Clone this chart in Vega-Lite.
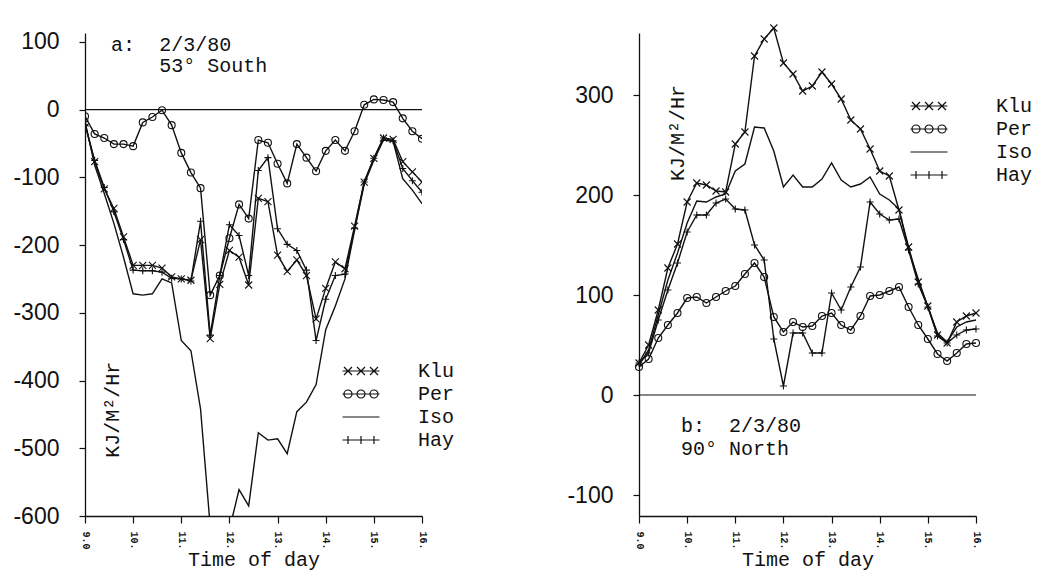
{
  "$schema": "https://vega.github.io/schema/vega-lite/v6.json",
  "background": "white",
  "padding": {"left": 12, "top": 22, "right": 5, "bottom": 4},
  "config": {
    "view": {"stroke": null},
    "font": "Liberation Mono",
    "axis": {"grid": false, "domainColor": "#111", "tickColor": "#111", "labelColor": "#111", "titleColor": "#111", "domainWidth": 1.3, "tickWidth": 1.2},
    "legend": {"padding": 0}
  },
  "datasets": {
    "a": [
      {"t": 9.0, "Klu": -20, "Per": -10, "Iso": -18, "Hay": -22},
      {"t": 9.2, "Klu": -77, "Per": -36, "Iso": -82, "Hay": -75},
      {"t": 9.4, "Klu": -117, "Per": -42, "Iso": -124, "Hay": -115},
      {"t": 9.6, "Klu": -146, "Per": -51, "Iso": -168, "Hay": -151},
      {"t": 9.8, "Klu": -188, "Per": -51, "Iso": -218, "Hay": -192},
      {"t": 10.0, "Klu": -230, "Per": -54, "Iso": -272, "Hay": -237},
      {"t": 10.2, "Klu": -230, "Per": -19, "Iso": -274, "Hay": -238},
      {"t": 10.4, "Klu": -230, "Per": -11, "Iso": -272, "Hay": -238},
      {"t": 10.6, "Klu": -234, "Per": -1, "Iso": -250, "Hay": -240},
      {"t": 10.8, "Klu": -247, "Per": -23, "Iso": -256, "Hay": -249},
      {"t": 11.0, "Klu": -250, "Per": -64, "Iso": -341, "Hay": -250},
      {"t": 11.2, "Klu": -252, "Per": -93, "Iso": -356, "Hay": -253},
      {"t": 11.4, "Klu": -192, "Per": -116, "Iso": -442, "Hay": -165},
      {"t": 11.6, "Klu": -338, "Per": -274, "Iso": -615, "Hay": -333},
      {"t": 11.8, "Klu": -258, "Per": -245, "Iso": -680, "Hay": -245},
      {"t": 12.0, "Klu": -208, "Per": -190, "Iso": -620, "Hay": -170},
      {"t": 12.2, "Klu": -218, "Per": -140, "Iso": -561, "Hay": -186},
      {"t": 12.4, "Klu": -259, "Per": -161, "Iso": -585, "Hay": -245},
      {"t": 12.6, "Klu": -131, "Per": -45, "Iso": -477, "Hay": -90},
      {"t": 12.8, "Klu": -136, "Per": -49, "Iso": -488, "Hay": -71},
      {"t": 13.0, "Klu": -215, "Per": -80, "Iso": -486, "Hay": -176},
      {"t": 13.2, "Klu": -239, "Per": -109, "Iso": -508, "Hay": -199},
      {"t": 13.4, "Klu": -222, "Per": -51, "Iso": -446, "Hay": -208},
      {"t": 13.6, "Klu": -245, "Per": -71, "Iso": -432, "Hay": -237},
      {"t": 13.8, "Klu": -309, "Per": -91, "Iso": -406, "Hay": -341},
      {"t": 14.0, "Klu": -264, "Per": -61, "Iso": -325, "Hay": -280},
      {"t": 14.2, "Klu": -225, "Per": -45, "Iso": -290, "Hay": -245},
      {"t": 14.4, "Klu": -235, "Per": -61, "Iso": -250, "Hay": -243},
      {"t": 14.6, "Klu": -172, "Per": -32, "Iso": -178, "Hay": -175},
      {"t": 14.8, "Klu": -107, "Per": 7, "Iso": -110, "Hay": -107},
      {"t": 15.0, "Klu": -72, "Per": 15, "Iso": -75, "Hay": -72},
      {"t": 15.2, "Klu": -42, "Per": 14, "Iso": -45, "Hay": -42},
      {"t": 15.4, "Klu": -44, "Per": 11, "Iso": -47, "Hay": -46},
      {"t": 15.6, "Klu": -77, "Per": -13, "Iso": -102, "Hay": -87},
      {"t": 15.8, "Klu": -92, "Per": -32, "Iso": -119, "Hay": -105},
      {"t": 16.0, "Klu": -107, "Per": -43, "Iso": -139, "Hay": -122}
    ],
    "b": [
      {"t": 9.0, "Klu": 32, "Per": 28, "Iso": 30, "Hay": 32},
      {"t": 9.2, "Klu": 50, "Per": 36, "Iso": 45, "Hay": 42},
      {"t": 9.4, "Klu": 85, "Per": 57, "Iso": 80, "Hay": 75},
      {"t": 9.6, "Klu": 127, "Per": 70, "Iso": 115, "Hay": 105},
      {"t": 9.8, "Klu": 151, "Per": 82, "Iso": 142, "Hay": 132},
      {"t": 10.0, "Klu": 193, "Per": 97, "Iso": 172, "Hay": 163},
      {"t": 10.2, "Klu": 212, "Per": 98, "Iso": 194, "Hay": 180},
      {"t": 10.4, "Klu": 210, "Per": 92, "Iso": 193, "Hay": 180},
      {"t": 10.6, "Klu": 204, "Per": 98, "Iso": 198, "Hay": 192},
      {"t": 10.8, "Klu": 203, "Per": 104, "Iso": 201, "Hay": 196},
      {"t": 11.0, "Klu": 251, "Per": 109, "Iso": 224, "Hay": 186},
      {"t": 11.2, "Klu": 263, "Per": 121, "Iso": 231, "Hay": 185},
      {"t": 11.4, "Klu": 339, "Per": 132, "Iso": 268, "Hay": 150},
      {"t": 11.6, "Klu": 356, "Per": 118, "Iso": 267, "Hay": 135},
      {"t": 11.8, "Klu": 367, "Per": 78, "Iso": 244, "Hay": 56},
      {"t": 12.0, "Klu": 332, "Per": 63, "Iso": 208, "Hay": 9},
      {"t": 12.2, "Klu": 321, "Per": 73, "Iso": 220, "Hay": 62},
      {"t": 12.4, "Klu": 304, "Per": 68, "Iso": 208, "Hay": 62},
      {"t": 12.6, "Klu": 309, "Per": 69, "Iso": 208, "Hay": 42},
      {"t": 12.8, "Klu": 323, "Per": 79, "Iso": 216, "Hay": 42},
      {"t": 13.0, "Klu": 311, "Per": 82, "Iso": 232, "Hay": 102},
      {"t": 13.2, "Klu": 296, "Per": 70, "Iso": 215, "Hay": 85},
      {"t": 13.4, "Klu": 275, "Per": 65, "Iso": 208, "Hay": 108},
      {"t": 13.6, "Klu": 266, "Per": 79, "Iso": 211, "Hay": 128},
      {"t": 13.8, "Klu": 246, "Per": 99, "Iso": 218, "Hay": 193},
      {"t": 14.0, "Klu": 224, "Per": 100, "Iso": 201, "Hay": 181},
      {"t": 14.2, "Klu": 219, "Per": 104, "Iso": 195, "Hay": 175},
      {"t": 14.4, "Klu": 185, "Per": 108, "Iso": 186, "Hay": 176},
      {"t": 14.6, "Klu": 148, "Per": 88, "Iso": 145, "Hay": 145},
      {"t": 14.8, "Klu": 113, "Per": 70, "Iso": 116, "Hay": 111},
      {"t": 15.0, "Klu": 89, "Per": 56, "Iso": 88, "Hay": 88},
      {"t": 15.2, "Klu": 60, "Per": 41, "Iso": 62, "Hay": 59},
      {"t": 15.4, "Klu": 52, "Per": 34, "Iso": 53, "Hay": 52},
      {"t": 15.6, "Klu": 73, "Per": 42, "Iso": 68, "Hay": 60},
      {"t": 15.8, "Klu": 79, "Per": 51, "Iso": 73, "Hay": 65},
      {"t": 16.0, "Klu": 82, "Per": 52, "Iso": 75, "Hay": 66}
    ]
  },
  "spacing": 217,
  "bounds": "flush",
  "resolve": {"scale": {"x": "independent", "y": "independent", "shape": "independent"}, "legend": {"shape": "independent"}},
  "hconcat": [
    {
      "width": 337,
      "height": 483,
      "layer": [
        {
          "data": {"values": [{}]},
          "mark": {"type": "rule", "color": "#111", "strokeWidth": 1.2},
          "encoding": {"y": {"datum": 0, "type": "quantitative"}}
        },
        {
          "data": {"name": "a"},
          "transform": [{"fold": ["Klu", "Per", "Iso", "Hay"], "as": ["s", "v"]}],
          "mark": {"type": "line", "color": "#111", "strokeWidth": 1.4, "clip": true},
          "encoding": {
            "x": {"field": "t", "type": "quantitative", "scale": {"domain": [9, 16], "nice": false, "zero": false},
              "axis": {"values": [9, 10, 11, 12, 13, 14, 15, 16], "labelExpr": "datum.value == 9 ? '9.0' : datum.value + '.'", "labelAngle": 90, "labelFont": "Liberation Mono", "labelFontSize": 10, "labelFontWeight": "bold", "labelPadding": 8, "tickSize": 7, "title": "Time of day", "titleFont": "Liberation Mono", "titleFontSize": 20, "titleFontWeight": "normal", "titlePadding": 0}},
            "y": {"field": "v", "type": "quantitative", "scale": {"domain": [-600, 113], "nice": false, "zero": false},
              "axis": {"values": [100, 0, -100, -200, -300, -400, -500, -600], "labelExpr": "datum.value < 0 ? '-' + abs(datum.value) : '' + datum.value", "labelFont": "Liberation Sans", "labelFontSize": 23, "tickSize": 6, "labelPadding": 20, "title": null}},
            "detail": {"field": "s"}
          }
        },
        {
          "data": {"name": "a"},
          "transform": [{"fold": ["Klu"], "as": ["s", "v"]}],
          "mark": {"type": "point", "filled": false, "color": "#111", "strokeWidth": 1.1, "size": 49, "opacity": 1, "clip": true, "shape": "M-1,-1L1,1M-1,1L1,-1"},
          "encoding": {"x": {"field": "t", "type": "quantitative"}, "y": {"field": "v", "type": "quantitative"}}
        },
        {
          "data": {"name": "a"},
          "transform": [{"fold": ["Per"], "as": ["s", "v"]}],
          "mark": {"type": "point", "filled": false, "color": "#111", "strokeWidth": 1.1, "size": 49, "opacity": 1, "clip": true, "shape": "circle"},
          "encoding": {"x": {"field": "t", "type": "quantitative"}, "y": {"field": "v", "type": "quantitative"}}
        },
        {
          "data": {"name": "a"},
          "transform": [{"fold": ["Hay"], "as": ["s", "v"]}],
          "mark": {"type": "point", "filled": false, "color": "#111", "strokeWidth": 1.1, "size": 49, "opacity": 1, "clip": true, "shape": "M-1,0L1,0M0,-1L0,1"},
          "encoding": {"x": {"field": "t", "type": "quantitative"}, "y": {"field": "v", "type": "quantitative"}}
        },
        {
          "data": {"name": "a"},
          "transform": [{"fold": ["Klu", "Per", "Iso", "Hay"], "as": ["s", "v"]}, {"filter": "false"}],
          "mark": {"type": "point", "filled": false, "color": "#111", "strokeWidth": 1.2, "size": 100, "opacity": 1},
          "encoding": {
            "x": {"field": "t", "type": "quantitative"},
            "y": {"field": "v", "type": "quantitative"},
            "shape": {"field": "s", "type": "nominal",
              "scale": {"domain": ["Klu", "Per", "Iso", "Hay"], "range": [
                "M-3.7,0L3.7,0M-3.4,-0.8L-1.8,0.8M-3.4,0.8L-1.8,-0.8M-0.8,-0.8L0.8,0.8M-0.8,0.8L0.8,-0.8M1.8,-0.8L3.4,0.8M1.8,0.8L3.4,-0.8",
                "M-3.7,0L3.7,0M-3.4,0A0.8,0.8 0 1,0 -1.8,0A0.8,0.8 0 1,0 -3.4,0M-0.8,0A0.8,0.8 0 1,0 0.8,0A0.8,0.8 0 1,0 -0.8,0M1.8,0A0.8,0.8 0 1,0 3.4,0A0.8,0.8 0 1,0 1.8,0",
                "M-3.7,0L3.7,0",
                "M-3.7,0L3.7,0M-2.6,-0.8L-2.6,0.8M0,-0.8L0,0.8M2.6,-0.8L2.6,0.8"]},
              "legend": {"orient": "none", "legendX": 266, "legendY": 328, "title": null, "labelFont": "Liberation Mono", "labelFontSize": 20, "labelColor": "#111", "labelOffset": 47, "symbolSize": 100, "symbolStrokeColor": "#111", "symbolStrokeWidth": 1.2, "symbolFillColor": "transparent", "symbolOpacity": 1, "rowPadding": 3}
            }
          }
        },
        {
          "data": {"values": [{}]},
          "mark": {"type": "text", "text": "a:", "font": "Liberation Mono", "fontSize": 20, "align": "left", "baseline": "alphabetic", "color": "#111"},
          "encoding": {"x": {"datum": 9.54, "type": "quantitative"}, "y": {"datum": 87, "type": "quantitative"}}
        },
        {
          "data": {"values": [{}]},
          "mark": {"type": "text", "text": ["2/3/80", "53° South"], "lineHeight": 21, "font": "Liberation Mono", "fontSize": 20, "align": "left", "baseline": "alphabetic", "color": "#111"},
          "encoding": {"x": {"datum": 10.54, "type": "quantitative"}, "y": {"datum": 87, "type": "quantitative"}}
        },
        {
          "data": {"values": [{}]},
          "mark": {"type": "text", "text": "KJ/M²/Hr", "angle": 270, "font": "Liberation Mono", "fontSize": 20, "align": "center", "baseline": "middle", "color": "#111"},
          "encoding": {"x": {"datum": 9.58, "type": "quantitative"}, "y": {"datum": -443, "type": "quantitative"}}
        }
      ]
    },
    {
      "width": 337,
      "height": 483,
      "layer": [
        {
          "data": {"values": [{}]},
          "mark": {"type": "rule", "color": "#111", "strokeWidth": 1.2},
          "encoding": {"y": {"datum": 0, "type": "quantitative"}}
        },
        {
          "data": {"name": "b"},
          "transform": [{"fold": ["Klu", "Per", "Iso", "Hay"], "as": ["s", "v"]}],
          "mark": {"type": "line", "color": "#111", "strokeWidth": 1.4, "clip": false},
          "encoding": {
            "x": {"field": "t", "type": "quantitative", "scale": {"domain": [9, 16], "nice": false, "zero": false},
              "axis": {"values": [9, 10, 11, 12, 13, 14, 15, 16], "labelExpr": "datum.value == 9 ? '9.0' : datum.value + '.'", "labelAngle": 90, "labelFont": "Liberation Mono", "labelFontSize": 10, "labelFontWeight": "bold", "labelPadding": 8, "tickSize": 7, "title": "Time of day", "titleFont": "Liberation Mono", "titleFontSize": 20, "titleFontWeight": "normal", "titlePadding": 0}},
            "y": {"field": "v", "type": "quantitative", "scale": {"domain": [-121, 362], "nice": false, "zero": false},
              "axis": {"values": [300, 200, 100, 0, -100], "labelExpr": "datum.value < 0 ? '-' + abs(datum.value) : '' + datum.value", "labelFont": "Liberation Sans", "labelFontSize": 23, "tickSize": 6, "labelPadding": 20, "title": null}},
            "detail": {"field": "s"}
          }
        },
        {
          "data": {"name": "b"},
          "transform": [{"fold": ["Klu"], "as": ["s", "v"]}],
          "mark": {"type": "point", "filled": false, "color": "#111", "strokeWidth": 1.1, "size": 49, "opacity": 1, "shape": "M-1,-1L1,1M-1,1L1,-1"},
          "encoding": {"x": {"field": "t", "type": "quantitative"}, "y": {"field": "v", "type": "quantitative"}}
        },
        {
          "data": {"name": "b"},
          "transform": [{"fold": ["Per"], "as": ["s", "v"]}],
          "mark": {"type": "point", "filled": false, "color": "#111", "strokeWidth": 1.1, "size": 49, "opacity": 1, "shape": "circle"},
          "encoding": {"x": {"field": "t", "type": "quantitative"}, "y": {"field": "v", "type": "quantitative"}}
        },
        {
          "data": {"name": "b"},
          "transform": [{"fold": ["Hay"], "as": ["s", "v"]}],
          "mark": {"type": "point", "filled": false, "color": "#111", "strokeWidth": 1.1, "size": 49, "opacity": 1, "shape": "M-1,0L1,0M0,-1L0,1"},
          "encoding": {"x": {"field": "t", "type": "quantitative"}, "y": {"field": "v", "type": "quantitative"}}
        },
        {
          "data": {"name": "b"},
          "transform": [{"fold": ["Klu", "Per", "Iso", "Hay"], "as": ["s", "v"]}, {"filter": "false"}],
          "mark": {"type": "point", "filled": false, "color": "#111", "strokeWidth": 1.2, "size": 100, "opacity": 1},
          "encoding": {
            "x": {"field": "t", "type": "quantitative"},
            "y": {"field": "v", "type": "quantitative"},
            "shape": {"field": "s", "type": "nominal",
              "scale": {"domain": ["Klu", "Per", "Iso", "Hay"], "range": [
                "M-3.7,0L3.7,0M-3.4,-0.8L-1.8,0.8M-3.4,0.8L-1.8,-0.8M-0.8,-0.8L0.8,0.8M-0.8,0.8L0.8,-0.8M1.8,-0.8L3.4,0.8M1.8,0.8L3.4,-0.8",
                "M-3.7,0L3.7,0M-3.4,0A0.8,0.8 0 1,0 -1.8,0A0.8,0.8 0 1,0 -3.4,0M-0.8,0A0.8,0.8 0 1,0 0.8,0A0.8,0.8 0 1,0 -0.8,0M1.8,0A0.8,0.8 0 1,0 3.4,0A0.8,0.8 0 1,0 1.8,0",
                "M-3.7,0L3.7,0",
                "M-3.7,0L3.7,0M-2.6,-0.8L-2.6,0.8M0,-0.8L0,0.8M2.6,-0.8L2.6,0.8"]},
              "legend": {"orient": "none", "legendX": 280, "legendY": 63, "title": null, "labelFont": "Liberation Mono", "labelFontSize": 20, "labelColor": "#111", "labelOffset": 57, "symbolSize": 100, "symbolStrokeColor": "#111", "symbolStrokeWidth": 1.2, "symbolFillColor": "transparent", "symbolOpacity": 1, "rowPadding": 3}
            }
          }
        },
        {
          "data": {"values": [{}]},
          "mark": {"type": "text", "text": "b:", "font": "Liberation Mono", "fontSize": 20, "align": "left", "baseline": "alphabetic", "color": "#111"},
          "encoding": {"x": {"datum": 9.87, "type": "quantitative"}, "y": {"datum": -37, "type": "quantitative"}}
        },
        {
          "data": {"values": [{}]},
          "mark": {"type": "text", "text": "2/3/80", "font": "Liberation Mono", "fontSize": 20, "align": "left", "baseline": "alphabetic", "color": "#111"},
          "encoding": {"x": {"datum": 10.87, "type": "quantitative"}, "y": {"datum": -37, "type": "quantitative"}}
        },
        {
          "data": {"values": [{}]},
          "mark": {"type": "text", "text": "90° North", "font": "Liberation Mono", "fontSize": 20, "align": "left", "baseline": "alphabetic", "color": "#111"},
          "encoding": {"x": {"datum": 9.87, "type": "quantitative"}, "y": {"datum": -60, "type": "quantitative"}}
        },
        {
          "data": {"values": [{}]},
          "mark": {"type": "text", "text": "KJ/M²/Hr", "angle": 270, "font": "Liberation Mono", "fontSize": 20, "align": "center", "baseline": "middle", "color": "#111"},
          "encoding": {"x": {"datum": 9.8, "type": "quantitative"}, "y": {"datum": 262, "type": "quantitative"}}
        }
      ]
    }
  ]
}
